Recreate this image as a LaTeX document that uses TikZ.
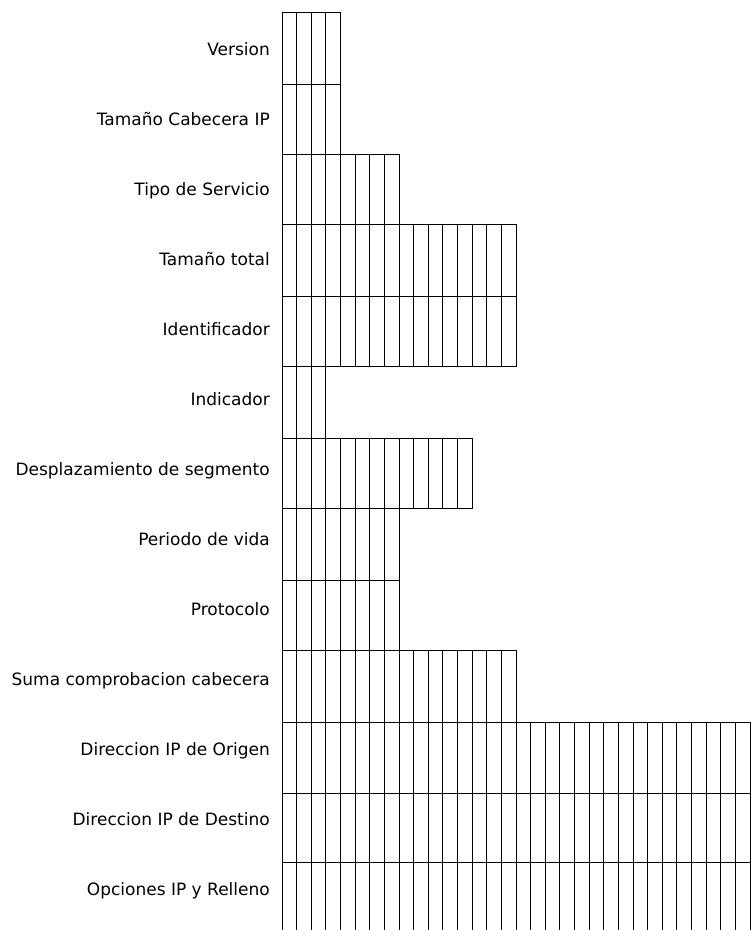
\documentclass[tikz,border=0pt]{standalone}
\usepackage{fontspec}
\setmainfont{DejaVu Sans}
\begin{document}
\begin{tikzpicture}[x=1pt,y=-1pt,
  fieldlabel/.style={anchor=base east, inner sep=0pt, font=\fontsize{17}{20}\selectfont},
  fieldbox/.style={draw=black, line width=1pt, anchor=north west, inner sep=0pt, outer sep=0pt},
  bitline/.style={draw=black, line width=1pt}]
\useasboundingbox (0,0) rectangle (751,930);
\clip (0,0) rectangle (751,930);
\def\bw{14.625}
\foreach \i/\n/\ytop/\ybot/\t in {
  0/4/12/84/Version,
  1/4/84/154/{Tamaño Cabecera IP},
  2/8/154/224.5/{Tipo de Servicio},
  3/16/224.5/296/{Tamaño total},
  4/16/296/366.7/Identificador,
  5/3/366.7/438.3/Indicador,
  6/13/438.3/508.3/{Desplazamiento de segmento},
  7/8/508.3/580/{Periodo de vida},
  8/8/580/650.7/Protocolo,
  9/16/650.7/722.3/{Suma comprobacion cabecera},
  10/32/722.3/793.3/{Direccion IP de Origen},
  11/32/793.3/862.3/{Direccion IP de Destino},
  12/32/862.3/934/{Opciones IP y Relleno}} {
  \pgfmathsetmacro\ybase{55+70*\i}
  \pgfmathsetmacro\fieldw{\n*\bw}
  \pgfmathsetmacro\fieldh{\ybot-\ytop}
  \pgfmathtruncatemacro\lastk{\n-1}
  \node[fieldbox, minimum width=\fieldw pt, minimum height=\fieldh pt] (row\i) at (282,\ytop) {};
  \node[fieldlabel] (lab\i) at (270,\ybase) {\t};
  \foreach \k in {1,...,\lastk} {
    \draw[bitline] ([xshift=\k*\bw pt]row\i.north west) -- ([xshift=\k*\bw pt]row\i.south west);
  }
}
\end{tikzpicture}
\end{document}
